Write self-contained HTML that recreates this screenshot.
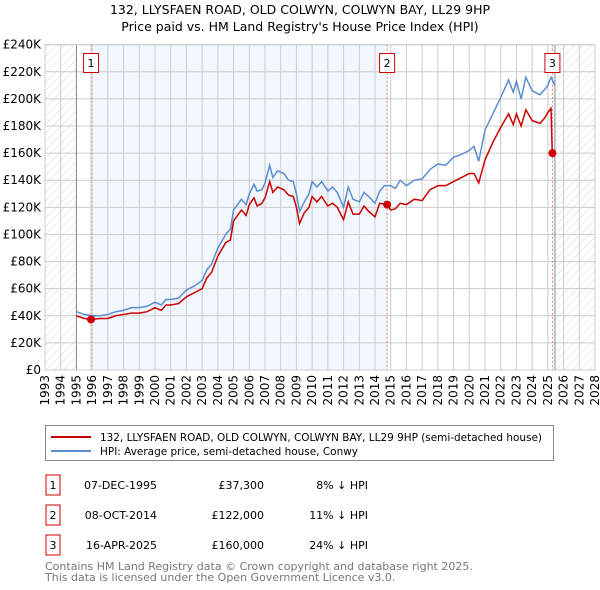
<!DOCTYPE html>
<html><head><meta charset="utf-8"><style>
body{margin:0;background:#fff;}
svg{display:block;font-family:"DejaVu Sans","Liberation Sans",sans-serif;}
</style></head><body>
<svg id="c" width="600" height="590" xmlns="http://www.w3.org/2000/svg">
<defs>
<pattern id="hatch" width="6" height="6" patternUnits="userSpaceOnUse" patternTransform="rotate(45)">
<line x1="0" y1="0" x2="0" y2="6" stroke="#ccc" stroke-width="0.8"/>
</pattern>
</defs>
<text x="300" y="14" text-anchor="middle" font-size="12.5">132, LLYSFAEN ROAD, OLD COLWYN, COLWYN BAY, LL29 9HP</text>
<text x="300" y="31" text-anchor="middle" font-size="12.5">Price paid vs. HM Land Registry's House Price Index (HPI)</text>
<g id="plot"></g>
<g>
<rect x="45.5" y="425.5" width="508" height="35" fill="#fff" stroke="#888"/>
<line x1="51" y1="437" x2="91" y2="437" stroke="#cc0000" stroke-width="2"/>
<text x="100" y="441" font-size="10.5" textLength="442" lengthAdjust="spacingAndGlyphs">132, LLYSFAEN ROAD, OLD COLWYN, COLWYN BAY, LL29 9HP (semi-detached house)</text>
<line x1="51" y1="451" x2="91" y2="451" stroke="#5b8ed1" stroke-width="2"/>
<text x="100" y="455" font-size="10.5" textLength="258" lengthAdjust="spacingAndGlyphs">HPI: Average price, semi-detached house, Conwy</text>
</g>
<g font-size="11">
<rect x="46" y="475" width="14" height="20" fill="#fff" stroke="#cc0000"/><text x="53" y="489" text-anchor="middle">1</text>
<text x="157" y="489" text-anchor="end">07-DEC-1995</text><text x="264" y="489" text-anchor="end">£37,300</text><text x="368" y="489" text-anchor="end">8% ↓ HPI</text>
<rect x="46" y="505" width="14" height="20" fill="#fff" stroke="#cc0000"/><text x="53" y="519" text-anchor="middle">2</text>
<text x="157" y="519" text-anchor="end">08-OCT-2014</text><text x="264" y="519" text-anchor="end">£122,000</text><text x="368" y="519" text-anchor="end">11% ↓ HPI</text>
<rect x="46" y="535" width="14" height="20" fill="#fff" stroke="#cc0000"/><text x="53" y="549" text-anchor="middle">3</text>
<text x="157" y="549" text-anchor="end">16-APR-2025</text><text x="264" y="549" text-anchor="end">£160,000</text><text x="368" y="549" text-anchor="end">24% ↓ HPI</text>
</g>
<text x="45" y="570" font-size="11" fill="#777">Contains HM Land Registry data © Crown copyright and database right 2025.</text>
<text x="45" y="581" font-size="11" fill="#777">This data is licensed under the Open Government Licence v3.0.</text>
</svg>
<script>
const yearTicks=[1993,1994,1995,1996,1997,1998,1999,2000,2001,2002,2003,2004,2005,2006,2007,2008,2009,2010,2011,2012,2013,2014,2015,2016,2017,2018,2019,2020,2021,2022,2023,2024,2025,2026,2027,2028];
const priceTicks=[0,20,40,60,80,100,120,140,160,180,200,220,240];
const hpiT=[1995.0,1995.5,1996,1996.5,1997,1997.5,1998,1998.5,1999,1999.5,2000,2000.4,2000.7,2001,2001.5,2002,2002.5,2003,2003.3,2003.6,2004,2004.5,2004.8,2005,2005.5,2005.8,2006,2006.3,2006.5,2006.8,2007,2007.3,2007.5,2007.8,2008.2,2008.5,2008.8,2009.0,2009.2,2009.5,2009.8,2010.0,2010.3,2010.6,2011.0,2011.3,2011.6,2012.0,2012.3,2012.6,2013.0,2013.3,2013.6,2014.0,2014.3,2014.6,2015.0,2015.3,2015.6,2016.0,2016.5,2017,2017.5,2018.0,2018.5,2019,2019.5,2020.0,2020.3,2020.6,2021.0,2021.5,2022.0,2022.5,2022.8,2023.0,2023.3,2023.6,2024.0,2024.5,2024.8,2025.0,2025.2,2025.45];
const hpiV=[43,41,40,40,41,43,44,46,46,47,50,48,52,52,53,59,62,66,74,78,90,100,104,118,126,122,130,137,132,133,138,151,142,147,145,140,139,130,117,124,130,139,135,139,132,135,131,120,135,126,124,131,128,123,132,136,136,134,140,136,140,141,148,152,151,157,159,162,165,154,177,189,201,214,205,213,200,216,206,203,207,210,216,210];
const ppT=[1995.0,1995.5,1995.93,1996.5,1997,1997.5,1998,1998.5,1999,1999.5,2000,2000.4,2000.7,2001,2001.5,2002,2002.5,2003,2003.3,2003.6,2004,2004.5,2004.8,2005,2005.5,2005.8,2006,2006.3,2006.5,2006.8,2007,2007.3,2007.5,2007.8,2008.2,2008.5,2008.8,2009.0,2009.2,2009.5,2009.8,2010.0,2010.3,2010.6,2011.0,2011.3,2011.6,2012.0,2012.3,2012.6,2013.0,2013.3,2013.6,2014.0,2014.3,2014.77,2015.0,2015.3,2015.6,2016.0,2016.5,2017,2017.5,2018.0,2018.5,2019,2019.5,2020.0,2020.3,2020.6,2021.0,2021.5,2022.0,2022.5,2022.8,2023.0,2023.3,2023.6,2024.0,2024.5,2024.8,2025.0,2025.2,2025.28,2025.29];
const ppV=[40,38,37.3,38,38,40,41,42,42,43,46,44,48,48,49,54,57,60,68,72,84,94,96,110,118,114,122,127,121,123,127,139,131,135,133,129,128,120,108,116,120,128,124,128,121,123,120,111,124,115,115,121,117,113,123,122,118,119,123,122,126,125,133,136,136,139,142,145,145,138,155,168,179,189,181,189,180,192,184,182,186,190,193,160,160];
const sales=[{t:1995.93,v:37.3,n:'1'},{t:2014.77,v:122,n:'2'},{t:2025.29,v:160,n:'3'}];

const X0=45,X1=595,Y0=370,Y1=44.7;
const xs=t=>X0+(t-1993)/(2028-1993)*(X1-X0);
const ys=v=>Y0-v/240*(Y0-Y1);
const NS='http://www.w3.org/2000/svg';
const plot=document.getElementById('plot');
function mk(tag,attrs,parent){const e=document.createElementNS(NS,tag);for(const k in attrs)e.setAttribute(k,attrs[k]);(parent||plot).appendChild(e);return e;}

let bg=mk('rect',{x:X0,y:Y1,width:X1-X0,height:Y0-Y1,fill:'#fff'});


let sh=mk('rect',{x:xs(sales[0].t),y:Y1,width:xs(sales[1].t)-xs(sales[0].t),height:Y0-Y1,fill:'#f2f6fd'});


let h1=mk('rect',{x:X0,y:Y1,width:xs(1995)-X0,height:Y0-Y1,fill:'url(#hatch)'});


let h2=mk('rect',{x:xs(2025.45),y:Y1,width:X1-xs(2025.45),height:Y0-Y1,fill:'url(#hatch)'});



yearTicks.forEach(y=>{
  let l=mk('line',{x1:xs(y),x2:xs(y),y1:Y1,y2:Y0,stroke:'#ccc','stroke-width':1});
  
  
  let t=mk('text',{x:0,y:0,'font-size':12,'text-anchor':'end',transform:`translate(${xs(y)+4},${Y0+5}) rotate(-90)`});
  t.textContent=y;
  
  
});
priceTicks.forEach(p=>{
  let l=mk('line',{x1:X0,x2:X1,y1:ys(p),y2:ys(p),stroke:'#ccc','stroke-width':1});
  
  
  let t=mk('text',{x:X0-4,y:ys(p)+4,'font-size':12,'text-anchor':'end'});
  t.textContent=p===0?'£0':'£'+p+'K';
  
  
});
let b1=mk('line',{x1:xs(1995),x2:xs(1995),y1:Y1,y2:Y0,stroke:'#888'});


let b2=mk('line',{x1:xs(2025.45),x2:xs(2025.45),y1:Y1,y2:Y0,stroke:'#889'});


sales.forEach(s=>{
  let l=mk('line',{x1:xs(s.t),x2:xs(s.t),y1:Y1,y2:Y0,stroke:'#e77','stroke-dasharray':'2,2'});
  
  
});
let hp=mk('polyline',{points:hpiT.map((t,i)=>xs(t)+','+ys(hpiV[i])).join(' '),fill:'none',stroke:'#5b8ed1','stroke-width':1.5});


let pp=mk('polyline',{points:ppT.map((t,i)=>xs(t)+','+ys(ppV[i])).join(' '),fill:'none',stroke:'#cc0000','stroke-width':1.5});


sales.forEach(s=>{
  let c=mk('circle',{cx:xs(s.t),cy:ys(s.v),r:4,fill:'#cc0000'});
  
  
  let r=mk('rect',{x:xs(s.t)-7.5,y:53.5,width:15,height:19,fill:'#fff',stroke:'#cc0000'});
  
  
  let t=mk('text',{x:xs(s.t),y:67,'font-size':11,'text-anchor':'middle'});
  t.textContent=s.n;
  
  
});
let fr=mk('rect',{x:X0,y:Y1,width:X1-X0,height:Y0-Y1,fill:'none',stroke:'#ccc'});


</script>
</body></html>
